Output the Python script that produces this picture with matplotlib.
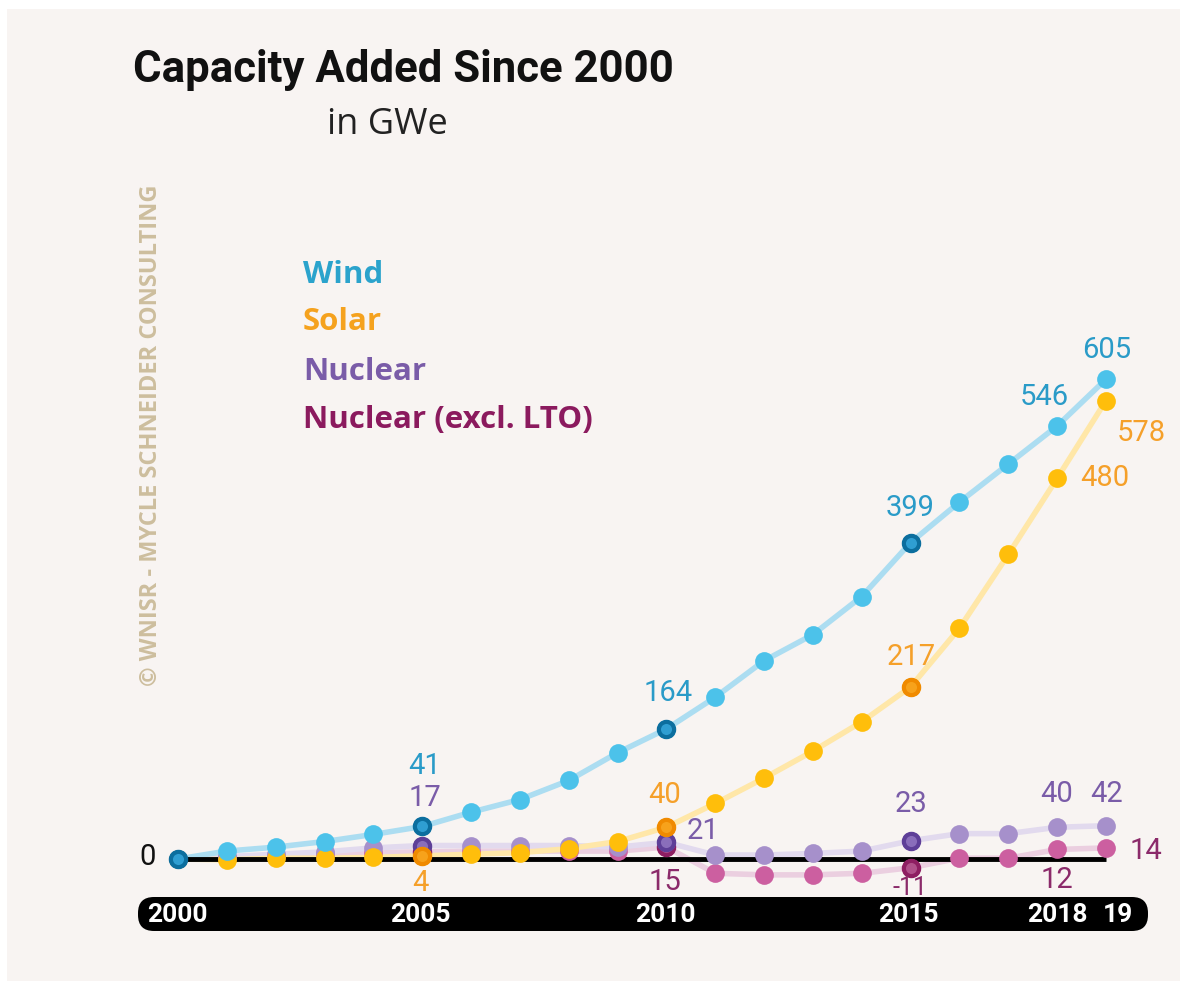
import matplotlib
matplotlib.use("Agg")
import matplotlib.pyplot as plt
from matplotlib.patches import FancyBboxPatch, Rectangle
from matplotlib.transforms import IdentityTransform

years = list(range(2000, 2020))
wind = [0, 10, 15, 22, 31, 41, 59, 75, 99, 134, 164, 204, 250, 283, 331, 399, 450, 498, 546, 605]
solar = [0, -1, 1, 1, 2, 4, 6, 8, 13, 22, 40, 70, 102, 136, 173, 217, 291, 384, 480, 578]
nuclear = [0, 3, 6, 9, 14, 17, 17, 17, 17, 15, 21, 5, 5, 7, 10, 23, 32, 32, 40, 42]
nuclear_excl = [0, 2, 4, 6, 8, 9, 10, 10, 10, 10, 15, -18, -20, -20, -18, -11, 1, 1, 12, 14]
highlight_years = [2005, 2010, 2015]
tick_labels = ["2000", "2005", "2010", "2015", "2018", "19"]
tick_years = [2000, 2005, 2010, 2015, 2018, 2019]

W, H = 1180, 981
fig = plt.figure(figsize=(W / 100, H / 100), dpi=100)
fig.patch.set_facecolor("white")
fig.add_artist(Rectangle((7 / W, 0), 1, 1 - 9 / H, transform=fig.transFigure,
                         facecolor="#F8F4F2", edgecolor="none", zorder=0))

ax = fig.add_axes([0, 0, 1, 1])
ax.set_facecolor("none")
x0px, dx = 178.0, 48.84
y0px, dy = 859.0, 0.793
ax.set_xlim(2000 - x0px / dx, 2000 + (W - x0px) / dx)
ax.set_ylim(-(H - y0px) / dy, y0px / dy)
ax.axis("off")

def px(x, y):
    return x / W, 1 - y / H

series = [
    (nuclear_excl, "#CC5FA0", "#EBCFE0", "#8E1E62", "#B0508A", 3),
    (nuclear, "#A690CB", "#E2DAEE", "#5E3F98", "#8A6EBB", 4),
    (solar, "#FFBE0B", "#FFE7A8", "#F08A00", "#F7A21B", 5),
    (wind, "#4CC2EA", "#ACDDF1", "#0C6E9E", "#2F9ED2", 6),
]
ms = 13.5
for vals, c, lc, hedge, hface, z in series:
    ax.plot(years, vals, color=lc, lw=4, zorder=1, solid_capstyle="round")
for vals, c, lc, hedge, hface, z in series:
    ax.plot(years, vals, ls="none", marker="o", ms=ms, mfc=c, mec=c, mew=0, zorder=z)
    for hy in highlight_years:
        i = years.index(hy)
        ax.plot([hy], [vals[i]], ls="none", marker="o", ms=ms - 2.5, mfc=hface,
                mec=hedge, mew=3, zorder=z + 0.5)
# 2000 point highlighted (wind)
ax.plot([2000], [0], ls="none", marker="o", ms=ms - 2.5, mfc="#2F9ED2",
        mec="#0C6E9E", mew=3, zorder=7)

# black baseline
ax.plot([2000, 2019], [0, 0], color="black", lw=3.5, zorder=2, solid_capstyle="butt")

# bottom axis bar
bar = FancyBboxPatch((138, H - 931), 1010, 34, boxstyle="round,pad=0,rounding_size=16",
                     transform=IdentityTransform(), facecolor="black", edgecolor="none", zorder=8)
fig.add_artist(bar)
tickfont = dict(family=["Roboto", "DejaVu Sans"], weight="bold",
                fontsize=19, color="white", ha="center", va="center")
tick_x = [177, 420, 665, 908, 1057, 1118]
for lab, xx in zip(tick_labels, tick_x):
    fig.text(*px(xx, 915), lab, zorder=9, **tickfont)

# title
fig.text(*px(133, 70), "Capacity Added Since 2000", family=["Roboto", "DejaVu Sans"],
         weight="bold", fontsize=31.5, color="#111111", ha="left", va="center")
fig.text(*px(327, 125), "in GWe", family=["Open Sans", "DejaVu Sans"],
         fontsize=26, color="#222222", ha="left", va="center")

# watermark
fig.text(*px(151, 435), "© WNISR - MYCLE SCHNEIDER CONSULTING", family=["Open Sans", "DejaVu Sans"],
         weight="bold", fontsize=17, color="#CDBE9E", rotation=90, ha="center", va="center")

# legend
leg = [("Wind", "#2BA3CC", 275), ("Solar", "#F5A21E", 322),
       ("Nuclear", "#7A5CA8", 372), ("Nuclear (excl. LTO)", "#8B1A5E", 420)]
for t, c, yy in leg:
    fig.text(*px(303, yy), t, family=["Open Sans", "DejaVu Sans"], weight="bold",
             fontsize=22.5, color=c, ha="left", va="center")

# data labels
lf = dict(family=["Roboto", "DejaVu Sans"], fontsize=21, ha="center", va="center")
labels = [
    ("0", 148, 857, "#111111"),
    ("41", 425, 766, "#2A9BC8"), ("164", 668, 693, "#2A9BC8"), ("399", 910, 508, "#2A9BC8"),
    ("546", 1044, 397, "#2A9BC8"), ("605", 1107, 350, "#2A9BC8"),
    ("4", 420, 883, "#F5A02A"), ("40", 665, 795, "#F5A02A"), ("217", 911, 657, "#F5A02A"),
    ("480", 1105, 478, "#F5A02A"), ("578", 1141, 433, "#F5A02A"),
    ("17", 425, 798, "#7A5CA8"), ("21", 703, 831, "#7A5CA8"), ("23", 911, 804, "#7A5CA8"),
    ("40", 1057, 794, "#7A5CA8"), ("42", 1107, 794, "#7A5CA8"),
    ("15", 665, 882, "#8B2A6A"), ("12", 1057, 880, "#8B2A6A"),
    ("14", 1146, 851, "#8B2A6A"),
]
for t, xx, yy, c in labels:
    fig.text(*px(xx, yy), t, color=c, zorder=10, **lf)
fig.text(*px(910, 888), "-11", color="#8B2A6A", zorder=10,
         family=["Roboto", "DejaVu Sans"], fontsize=18, ha="center", va="center")

fig.savefig("out.png", dpi=100, facecolor=fig.get_facecolor())
